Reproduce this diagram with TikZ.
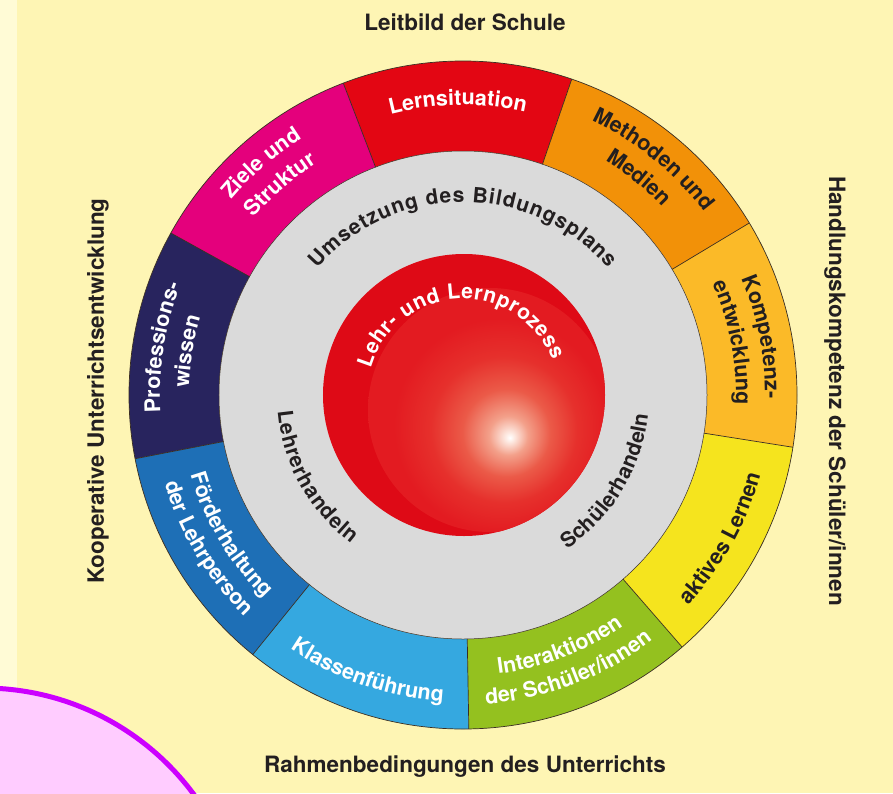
\documentclass[tikz,border=0pt]{standalone}
\usepackage{fontspec}
\setmainfont{TeX Gyre Heros}
\usetikzlibrary{decorations.text}
\definecolor{bg}{HTML}{FEF5B4}
\definecolor{strip}{HTML}{FFFBD6}
\definecolor{cLern}{HTML}{E30613}
\definecolor{cZiel}{HTML}{E4007C}
\definecolor{cProf}{HTML}{28245E}
\definecolor{cFoerd}{HTML}{1E6FB6}
\definecolor{cKlass}{HTML}{35A8E0}
\definecolor{cInter}{HTML}{94C11F}
\definecolor{cAktiv}{HTML}{F5E41E}
\definecolor{cKomp}{HTML}{FBBA28}
\definecolor{cMeth}{HTML}{F29108}
\definecolor{cGrey}{HTML}{DADADA}
\definecolor{edgec}{HTML}{3A2E22}
\definecolor{txtd}{HTML}{231F20}
\definecolor{cSph}{HTML}{DE0A16}
\definecolor{cSphIn}{HTML}{E31B21}
\definecolor{hlA}{HTML}{FDE8E0}
\definecolor{hlB}{HTML}{F3A08A}
\definecolor{hlC}{HTML}{EB5A48}
\definecolor{hlD}{HTML}{E6302C}
\definecolor{blobF}{HTML}{FFCCFF}
\definecolor{blobL}{HTML}{CC00FF}
\pgfdeclareradialshading{spherehl}{\pgfpoint{4.1bp}{-5.7bp}}{color(0bp)=(white); color(1bp)=(hlA); color(4bp)=(hlB); color(9bp)=(hlC); color(15bp)=(hlD); color(22bp)=(cSphIn); color(50bp)=(cSphIn)}

\newcommand\wfont{\color{white}\fontsize{21.5}{25}\selectfont\bfseries}
\newcommand\dfont{\color{txtd}\fontsize{21.5}{25}\selectfont\bfseries}
\newcommand\ifont{\color{txtd}\fontsize{21}{24}\selectfont\bfseries}
\newcommand\sfont{\color{white}\fontsize{21}{24}\selectfont\bfseries}
\newcommand\arcCW[4]{\path[decorate,decoration={text along path,text align=center,text={|#3|#4}}] ({#1+30}:#2pt) arc[start angle={#1+30},end angle={#1-30},radius=#2pt];}
\newcommand\arcCCW[4]{\path[decorate,decoration={text along path,text align=center,text={|#3|#4}}] ({#1-30}:#2pt) arc[start angle={#1-30},end angle={#1+30},radius=#2pt];}
\newcommand\arcFit[5]{\path[decorate,decoration={text along path,text align=fit to path,text={|#4|#5}}] (#1:#3pt) arc[start angle=#1,end angle=#2,radius=#3pt];}

\begin{document}
\begin{tikzpicture}[x=1pt,y=1pt,
  edge/.style={draw=edgec,line width=0.7pt},
  lab/.style={text=txtd,font=\fontsize{22.5}{26}\selectfont\bfseries,inner sep=0pt}]
\useasboundingbox (-463pt,-398pt) rectangle (430pt,395pt);
\fill[bg] (-463pt,-398pt) rectangle (430pt,395pt);
\fill[strip] (-463pt,-398pt) rectangle (-446pt,395pt);

% ring segments
\foreach \a/\col in {91/cLern,131/cZiel,171/cProf,211/cFoerd,251/cKlass,291/cInter,331/cAktiv,371/cKomp,411/cMeth}{
  \fill[\col] ({\a-20}:244pt) arc[start angle={\a-20},end angle={\a+20},radius=244pt]
    -- ({\a+20}:334pt) arc[start angle={\a+20},end angle={\a-20},radius=334pt] -- cycle;
}
\fill[cGrey] (0,0) circle[radius=244pt];
\draw[edge] (0,0) circle[radius=334pt];
\draw[edge,line width=0.5pt] (0,0) circle[radius=244pt];
\foreach \a in {31,71,111,151,191,231,271,311,351}{
  \draw[edge] (\a:244pt) -- (\a:334pt);
}

% sphere
\fill[cSph] (1pt,0pt) circle[radius=141pt];
\begin{scope}
  \clip (1pt,0pt) circle[radius=141pt];
  \shade[shading=spherehl] (27pt,-15pt) circle[radius=122pt];
\end{scope}

% ring texts
\arcCW{91}{290}{\wfont}{Lernsituation}
\arcCW{131}{303}{\wfont}{Ziele und}
\arcCW{131}{274}{\wfont}{Struktur}
\arcCW{171}{303}{\wfont}{Professions-}
\arcCW{171}{274}{\wfont}{wissen}
\arcCCW{211}{284}{\wfont}{Förderhaltung}
\arcCCW{211}{311}{\wfont}{der Lehrperson}
\arcCCW{251}{307}{\wfont}{Klassenführung}
\arcCCW{291}{281}{\wfont}{Interaktionen}
\arcCCW{291}{310}{\wfont}{der Schüler/innen}
\arcCCW{331}{308}{\dfont}{aktives Lernen}
\arcCW{11}{302}{\dfont}{Kompetenz-}
\arcCW{11}{273}{\dfont}{entwicklung}
\arcCW{51}{303}{\dfont}{Methoden und}
\arcCW{51}{274}{\dfont}{Medien}

% inner texts
\arcFit{139}{41}{193}{\ifont}{Umsetzung des Bildungsplans}
\arcFit{185}{233}{186}{\ifont}{Lehrerhandeln}
\arcFit{-56}{-6}{186}{\ifont}{Schülerhandeln}
\arcFit{164}{21}{96}{\sfont}{Lehr- und Lernprozess}

% outer labels
\node[lab] (leitbild) at (2pt,373pt) {Leitbild der Schule};
\node[lab] (rahmen) at (2pt,-372pt) {Rahmenbedingungen des Unterrichts};
\node[lab,rotate=90] (koop) at (-365pt,4pt) {Kooperative Unterrichtsentwicklung};
\node[lab,rotate=-90] (handl) at (372pt,4pt) {Handlungskompetenz der Schüler/innen};

% overlay blob
\begin{scope}
  \clip (-463pt,-398pt) rectangle (430pt,395pt);
  \draw[line width=5pt,draw=blobL,fill=blobF] (-480pt,-555pt) circle[radius=262pt];
\end{scope}
\end{tikzpicture}
\end{document}
